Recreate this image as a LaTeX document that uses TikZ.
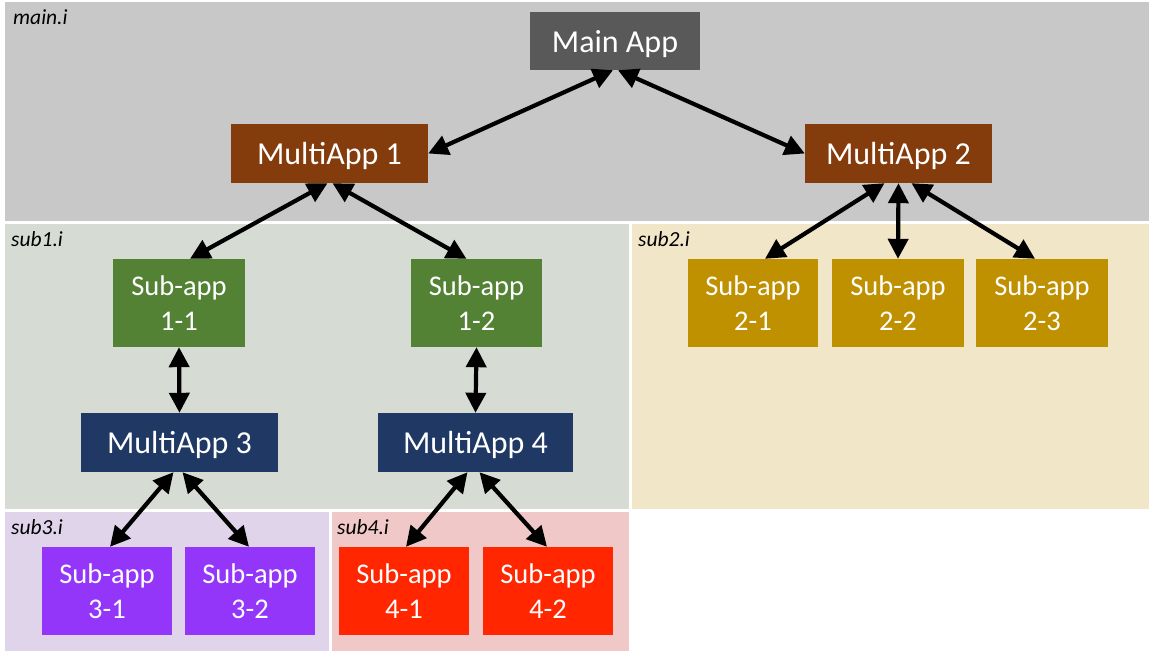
\documentclass[tikz,border=0pt]{standalone}
\usepackage{fontspec}
\setmainfont{Carlito}
\usetikzlibrary{arrows.meta}
\definecolor{regmain}{HTML}{C8C8C8}
\definecolor{regone}{HTML}{D6DCD3}
\definecolor{regtwo}{HTML}{F1E6C8}
\definecolor{regthree}{HTML}{E0D4EB}
\definecolor{regfour}{HTML}{F1C8C8}
\definecolor{cmain}{HTML}{595959}
\definecolor{cbrown}{HTML}{843C0C}
\definecolor{cgreen}{HTML}{548235}
\definecolor{cgold}{HTML}{BF9000}
\definecolor{cnavy}{HTML}{203864}
\definecolor{cpurple}{HTML}{9436FA}
\definecolor{cred}{HTML}{FF2600}
\tikzset{
  appbox/.style={inner sep=0pt, text=white, align=center, font=\fontsize{32}{38}\selectfont},
  bigbox/.style={appbox, minimum height=59pt, text depth=0pt},
  subbox/.style={appbox, minimum width=131pt, minimum height=88pt, text depth=-3pt, font=\fontsize{28.5}{35}\selectfont},
  regionlabel/.style={anchor=north west, inner sep=0pt, font=\fontsize{21.5}{24}\selectfont\itshape},
  biarrow/.style={line width=4.2pt, {Triangle[length=20pt,width=20pt]}-{Triangle[length=20pt,width=20pt]}},
}
\begin{document}
\begin{tikzpicture}[x=1pt,y=-1pt]
\useasboundingbox (0,0) rectangle (1151,652);
% regions
\fill[regmain] (5,2) rectangle (1149,221);
\fill[regone] (5,224) rectangle (629,509);
\fill[regtwo] (632,224) rectangle (1149,509);
\fill[regthree] (5,512) rectangle (329,651);
\fill[regfour] (332,512) rectangle (629,651);
\node[regionlabel] (lmain) at (13,10) {main.i};
\node[regionlabel] (lone) at (11,231) {sub1.i};
\node[regionlabel] (ltwo) at (638,231) {sub2.i};
\node[regionlabel] (lthree) at (11,519) {sub3.i};
\node[regionlabel] (lfour) at (337,519) {sub4.i};
% nodes
\node[bigbox, fill=cmain, minimum width=170pt, minimum height=58pt] (main) at (615,41) {Main App};
\node[bigbox, fill=cbrown, minimum width=197pt] (ma1) at (329.5,153.5) {MultiApp 1};
\node[bigbox, fill=cbrown, minimum width=187pt] (ma2) at (898.5,153.5) {MultiApp 2};
\node[subbox, fill=cgreen, minimum width=132pt] (s11) at (179,303) {Sub-app\\1-1};
\node[subbox, fill=cgreen] (s12) at (476.5,303) {Sub-app\\1-2};
\node[subbox, fill=cgold, minimum width=130pt] (s21) at (753,303) {Sub-app\\2-1};
\node[subbox, fill=cgold, minimum width=132pt] (s22) at (898,303) {Sub-app\\2-2};
\node[subbox, fill=cgold, minimum width=132pt] (s23) at (1042,303) {Sub-app\\2-3};
\node[bigbox, fill=cnavy, minimum width=197pt] (ma3) at (179.5,442.5) {MultiApp 3};
\node[bigbox, fill=cnavy, minimum width=195pt] (ma4) at (475.5,442.5) {MultiApp 4};
\node[subbox, fill=cpurple, minimum width=130pt] (s31) at (107,591) {Sub-app\\3-1};
\node[subbox, fill=cpurple, minimum width=130pt] (s32) at (250,591) {Sub-app\\3-2};
\node[subbox, fill=cred, minimum width=130pt] (s41) at (404,591) {Sub-app\\4-1};
\node[subbox, fill=cred, minimum width=130pt] (s42) at (548,591) {Sub-app\\4-2};
% connectors
\draw[biarrow] ([xshift=-2pt]main.south) -- (ma1.east);
\draw[biarrow] ([xshift=3pt]main.south) -- (ma2.west);
\draw[biarrow] ([xshift=-2pt]ma1.south) -- ([xshift=11pt]s11.north);
\draw[biarrow] ([xshift=3pt]ma1.south) -- ([xshift=-10pt]s12.north);
\draw[biarrow] ([xshift=-14pt]ma2.south) -- ([xshift=12pt]s21.north);
\draw[biarrow] (ma2.south) -- (s22.north);
\draw[biarrow] ([xshift=13pt]ma2.south) -- ([xshift=-7pt]s23.north);
\draw[biarrow] (s11.south) -- (ma3.north);
\draw[biarrow] (s12.south) -- (ma4.north);
\draw[biarrow] ([xshift=-6pt]ma3.south) -- ([xshift=3pt]s31.north);
\draw[biarrow] ([xshift=3pt]ma3.south) -- ([xshift=-1pt]s32.north);
\draw[biarrow] ([xshift=-8pt]ma4.south) -- ([xshift=2pt]s41.north);
\draw[biarrow] ([xshift=4pt]ma4.south) -- ([xshift=-1pt]s42.north);
\end{tikzpicture}
\end{document}
